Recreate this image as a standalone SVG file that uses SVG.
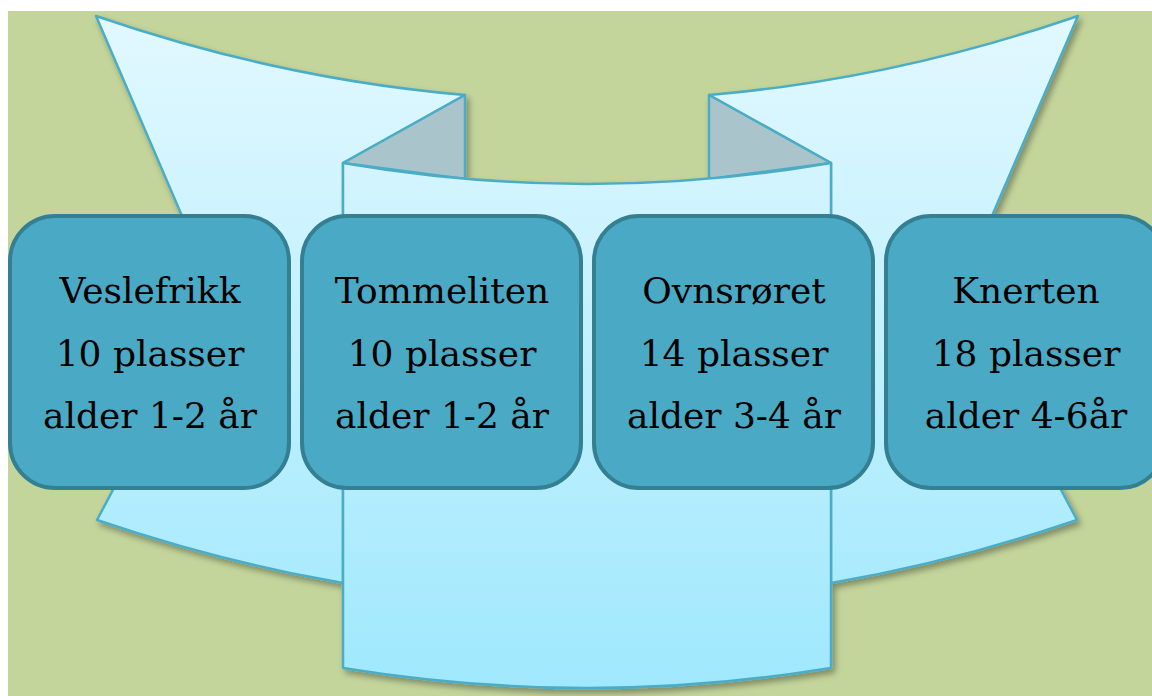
<svg xmlns="http://www.w3.org/2000/svg" width="1152" height="696" viewBox="0 0 1152 696">
<defs>
<linearGradient id="fill" gradientUnits="userSpaceOnUse" x1="0" y1="16" x2="0" y2="690">
<stop offset="0" stop-color="#e2f8ff"/>
<stop offset="1" stop-color="#9fe8fd"/>
</linearGradient>
<filter id="sh" x="-10%" y="-10%" width="120%" height="120%">
<feDropShadow dx="3" dy="4" stdDeviation="3" flood-color="#000" flood-opacity="0.35"/>
</filter>
</defs>
<style>
.band{fill:url(#fill);stroke:#4bacc6;stroke-width:2.5;stroke-linejoin:round}
.fold{fill:#aac4cc;stroke:#4bacc6;stroke-width:2.5;stroke-linejoin:round}
.box{fill:#4aaac5;stroke:#357f93;stroke-width:4}
.t{font-family:"DejaVu Serif","Liberation Serif",serif;font-size:36px;fill:#000;text-anchor:middle}
</style>
<rect x="0" y="0" width="1152" height="696" fill="#ffffff"/>
<rect x="8" y="11" width="1144" height="685" fill="#c4d59b"/>
<g id="banner" filter="url(#sh)">
<path class="band" d="M96,16 Q280.5,79.3 465,95 L343,163 L343,583 Q220,562 97,520 L216,295 Z"/>
<path class="band" d="M1078,16 Q893.5,79.3 709,95 L831,163 L831,583 Q954,562 1077,520 L958,295 Z"/>
<path class="fold" d="M343,163 L465,95 L465,179 Z"/>
<path class="fold" d="M831,163 L709,95 L709,179 Z"/>
<path class="band" d="M343,163 Q587,205 831,163 L831,668 Q587,708 343,668 Z"/>
</g>
<g id="veslefrikk">
<rect class="box" x="10" y="216" width="279" height="272" rx="45"/>
<text class="t" x="150" y="303">Veslefrikk</text>
<text class="t" x="150" y="366">10 plasser</text>
<text class="t" x="150" y="428">alder 1-2 år</text>
</g>
<g id="tommeliten">
<rect class="box" x="302" y="216" width="279" height="272" rx="45"/>
<text class="t" x="442" y="303">Tommeliten</text>
<text class="t" x="442" y="366">10 plasser</text>
<text class="t" x="442" y="428">alder 1-2 år</text>
</g>
<g id="ovnsroret">
<rect class="box" x="594" y="216" width="279" height="272" rx="45"/>
<text class="t" x="734" y="303">Ovnsrøret</text>
<text class="t" x="734" y="366">14 plasser</text>
<text class="t" x="734" y="428">alder 3-4 år</text>
</g>
<g id="knerten">
<rect class="box" x="886" y="216" width="279" height="272" rx="45"/>
<text class="t" x="1026" y="303">Knerten</text>
<text class="t" x="1026" y="366">18 plasser</text>
<text class="t" x="1026" y="428">alder 4-6år</text>
</g>
<g id="connectors"></g>
</svg>
